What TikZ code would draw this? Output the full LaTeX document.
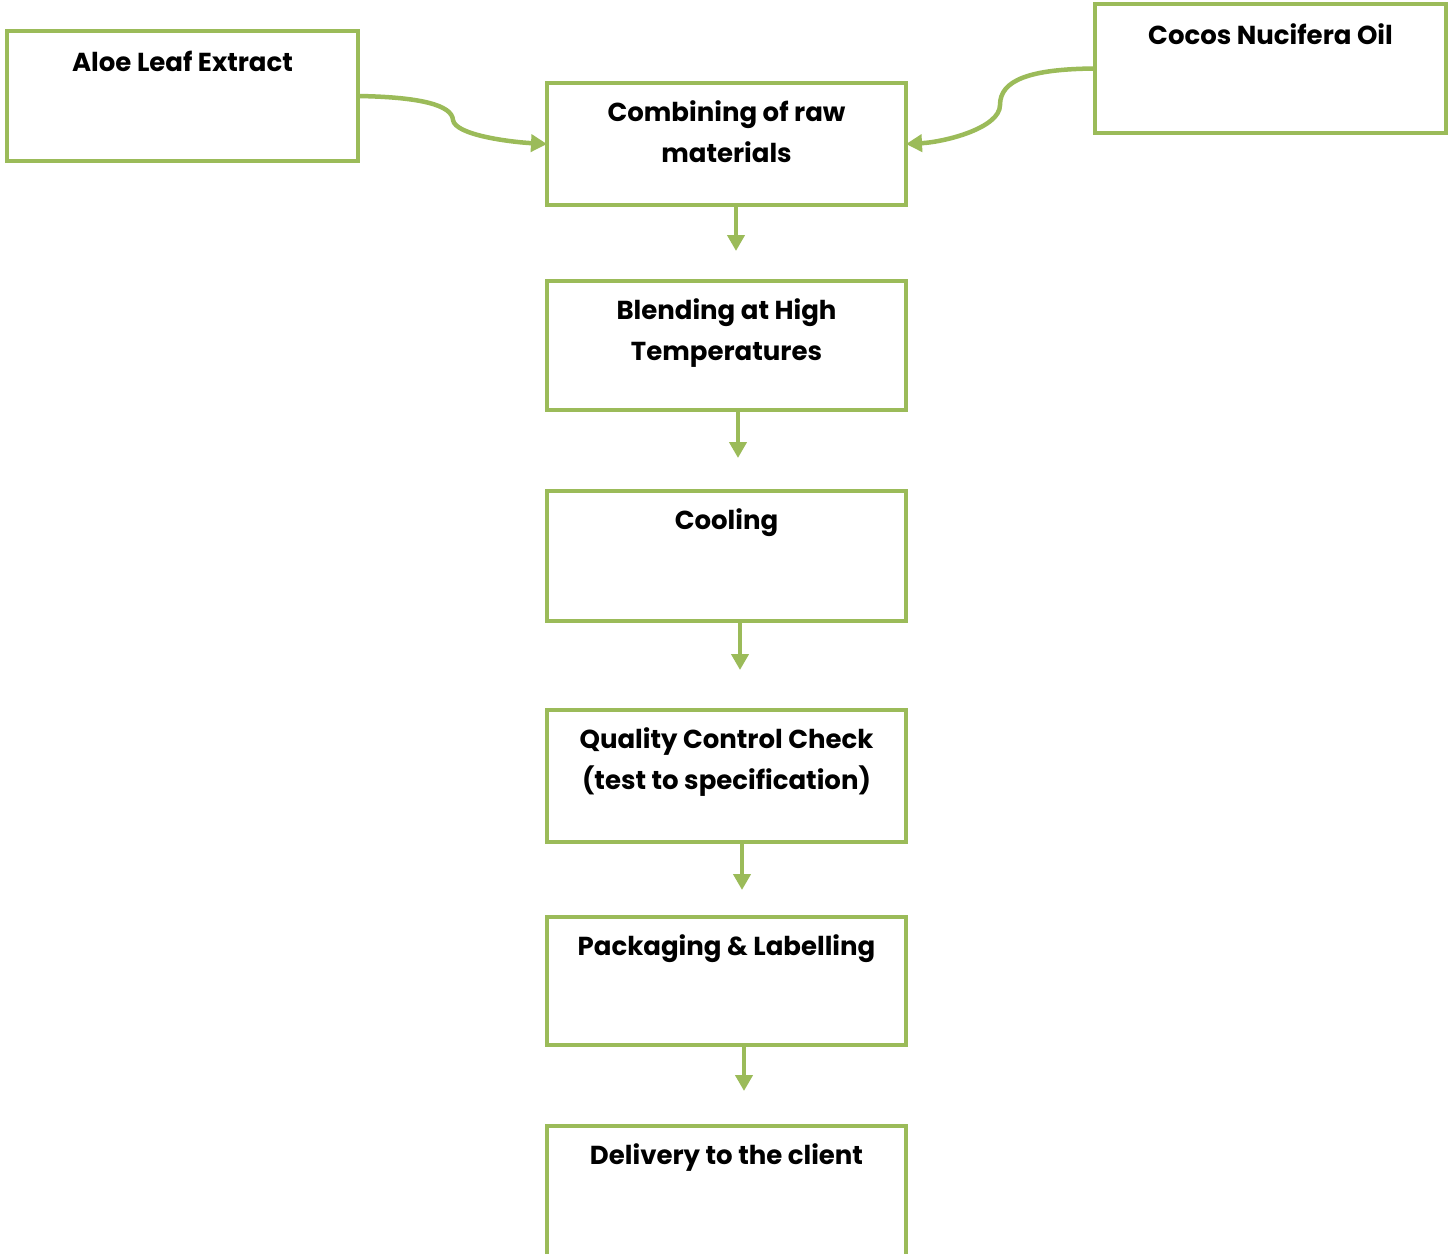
\documentclass[tikz,border=0pt]{standalone}
\usepackage{fontspec}
\setmainfont{Poppins}
\usetikzlibrary{arrows.meta}
\definecolor{leaf}{RGB}{155,187,89}
\tikzset{
  box/.style={draw=leaf, line width=4.5bp, anchor=north west, inner sep=0pt, outer sep=0pt, fill=white},
  lbl/.style={anchor=north, inner sep=0pt, align=center, font=\fontsize{26bp}{41bp}\selectfont\bfseries},
  flow/.style={draw=leaf, line width=4.5bp, -{Triangle[length=16bp,width=17bp]}}
}
\begin{document}
\begin{tikzpicture}[x=1bp,y=-1bp]
\useasboundingbox (0,0) rectangle (1455,1253);
\fill[white] (0,0) rectangle (1455,1253);
% boxes
\node[box, minimum width=351bp, minimum height=130bp] (aloe) at (7,31) {};
\node[box, minimum width=351bp, minimum height=129bp] (cocos) at (1095,4) {};
\node[box, minimum width=359bp, minimum height=122bp] (comb) at (547,83) {};
\node[box, minimum width=359bp, minimum height=129bp] (blend) at (547,281) {};
\node[box, minimum width=359bp, minimum height=130bp] (cool) at (547,491) {};
\node[box, minimum width=359bp, minimum height=132bp] (qc) at (547,710) {};
\node[box, minimum width=359bp, minimum height=128bp] (pack) at (547,917) {};
\node[box, minimum width=359bp, minimum height=150bp] (deliv) at (547,1126) {};
% labels
\node[lbl] (taloe) at ([yshift=-20bp]aloe.north) {Aloe Leaf Extract};
\node[lbl] (tcocos) at ([yshift=-19bp]cocos.north) {Cocos Nucifera Oil};
\node[lbl] (tcomb) at ([yshift=-17bp]comb.north) {Combining of raw\\materials};
\node[lbl] (tblend) at ([yshift=-17bp]blend.north) {Blending at High\\Temperatures};
\node[lbl] (tcool) at ([yshift=-17bp]cool.north) {Cooling};
\node[lbl] (tqc) at ([yshift=-17bp]qc.north) {Quality Control Check\\(test to specification)};
\node[lbl] (tpack) at ([yshift=-17bp]pack.north) {Packaging \& Labelling};
\node[lbl] (tdeliv) at ([yshift=-17bp]deliv.north) {Delivery to the client};
% free ends
\coordinate (e1) at (736,251);
\coordinate (e2) at (738,458);
\coordinate (e3) at (740,670);
\coordinate (e4) at (742,890);
\coordinate (e5) at (744,1091);
\draw[flow] (736,205) -- (e1);
\draw[flow] (738,410) -- (e2);
\draw[flow] (740,621) -- (e3);
\draw[flow] (742,842) -- (e4);
\draw[flow] (744,1045) -- (e5);
% curved connectors
\coordinate (m1) at (453,120);
\coordinate (m2) at (1000,105);
\draw[flow] (aloe.east) .. controls (420,97) and (452,105) .. (m1) .. controls (455,135) and (510,142) .. (comb.west);
\draw[flow] (cocos.west) .. controls (1030,69) and (1000,80) .. (m2) .. controls (1000,128) and (945,142) .. (comb.east);
\end{tikzpicture}
\end{document}
